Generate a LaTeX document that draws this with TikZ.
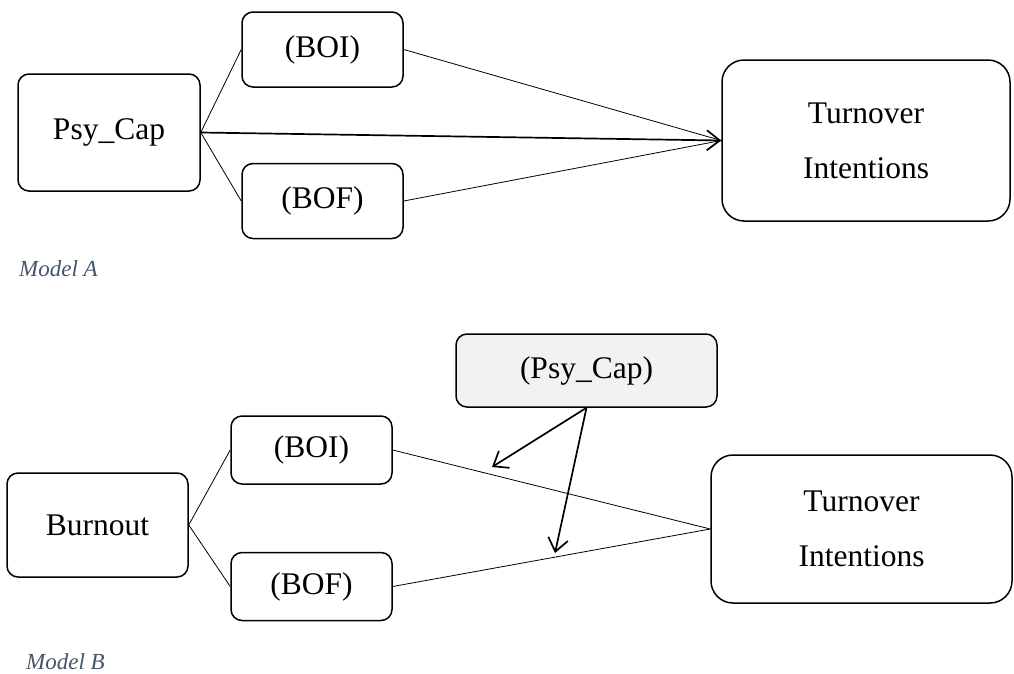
\documentclass[tikz,border=0pt]{standalone}
\usepackage{fontspec}
\setmainfont{Liberation Serif}
\usepackage{tikz}
\usetikzlibrary{arrows.meta, positioning}
\definecolor{labelSlate}{HTML}{44546A}
\definecolor{moderatorFill}{HTML}{F2F2F2}
\newcommand{\boxfont}{\fontsize{31.5}{55}\selectfont}

\begin{document}
\begin{tikzpicture}[x=1pt, y=-1pt,
  every node/.style={font=\boxfont, align=center},
  varBox/.style={draw, rounded corners=11pt, line width=1.5pt, inner sep=0pt},
  outcomeBox/.style={varBox, rounded corners=22pt},
  pathLine/.style={line width=0.8pt},
  effectArrow/.style={line width=1.7pt, -{Straight Barb[length=13pt, width=20pt]}},
  modelLabel/.style={font=\fontsize{23}{27}\selectfont\itshape, text=labelSlate, anchor=base west, inner sep=0pt}
]
  \useasboundingbox (0,0) rectangle (1014,673);

  % Model A
  \node[varBox, minimum width=182pt, minimum height=117pt] (psycapA) at (109,132.5) {Psy\_Cap};
  \node[varBox, minimum width=161pt, minimum height=75pt] (boiA) at (322.5,49.5) {(BOI)};
  \node[varBox, minimum width=161pt, minimum height=75pt, below=75pt of boiA] (bofA) {(BOF)};
  \node[outcomeBox, minimum width=288pt, minimum height=161pt] (turnA) at (866,140.5) {Turnover\\Intentions};

  \draw[pathLine] (boiA.west) -- (psycapA.east) -- (bofA.west);
  \draw[pathLine] (boiA.east) -- (turnA.west) -- (bofA.east);
  \draw[effectArrow] (psycapA.east) -- (turnA.west);

  \node[modelLabel] (labelA) at (19,276) {Model A};

  % Model B
  \node[varBox, fill=moderatorFill, minimum width=261pt, minimum height=73pt] (pcapB) at (586.5,370.5) {(Psy\_Cap)};
  \node[varBox, minimum width=181pt, minimum height=104pt] (burnout) at (97.5,525) {Burnout};
  \node[varBox, minimum width=161pt, minimum height=68pt] (boiB) at (311.5,450) {(BOI)};
  \node[varBox, minimum width=161pt, minimum height=68pt, below=67pt of boiB] (bofB) {(BOF)};
  \node[outcomeBox, minimum width=301pt, minimum height=148pt] (turnB) at (861.5,529) {Turnover\\Intentions};

  \draw[pathLine] (boiB.west) -- (burnout.east) -- (bofB.west);
  \draw[pathLine] (boiB.east) -- (turnB.west) -- (bofB.east);

  \coordinate (modI) at (492,467);
  \coordinate (modF) at (555,553);
  \draw[effectArrow] (pcapB.south) -- (modI);
  \draw[effectArrow] (pcapB.south) -- (modF);

  \node[modelLabel] (labelB) at (26,669) {Model B};

\end{tikzpicture}
\end{document}
